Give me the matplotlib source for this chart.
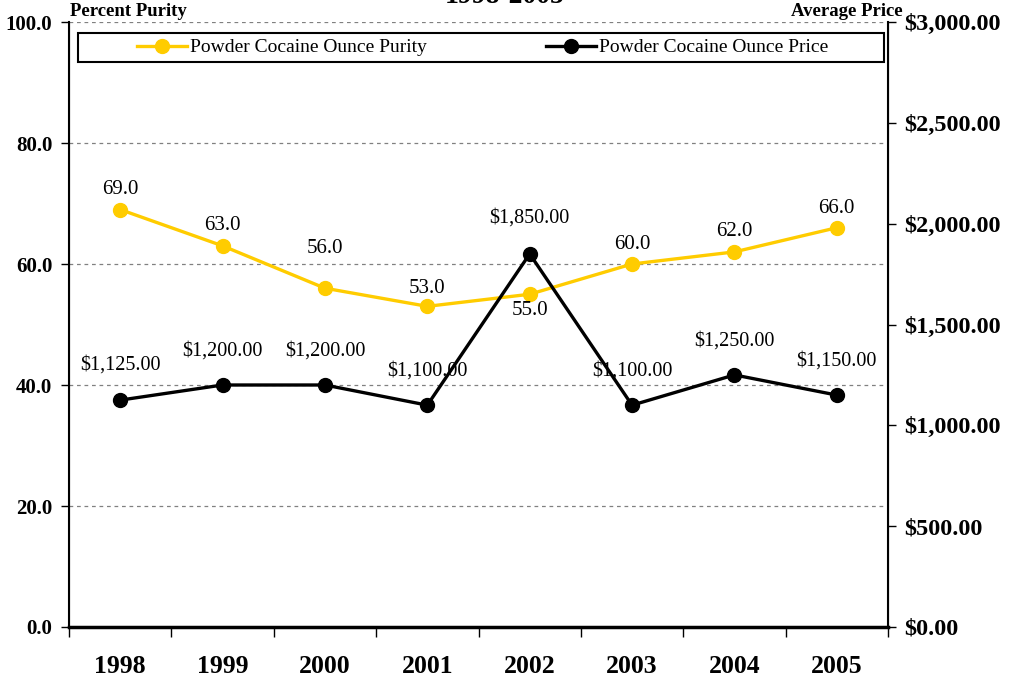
import matplotlib
matplotlib.use("Agg")
import matplotlib.pyplot as plt
from matplotlib.patches import Rectangle

years = ["1998", "1999", "2000", "2001", "2002", "2003", "2004", "2005"]
purity = [69.0, 63.0, 56.0, 53.0, 55.0, 60.0, 62.0, 66.0]
price = [1125, 1200, 1200, 1100, 1850, 1100, 1250, 1150]
purity_label_dy = [20, 20, 40, 18, -16, 20, 20, 19]
price_label_dy = [35, 34, 34, 34, 36, 34, 34, 34]

plt.rcParams['font.family'] = ['Liberation Serif', 'DejaVu Serif']

fig = plt.figure(figsize=(10.09, 6.8), dpi=100)
ax = fig.add_axes([69/1009, 1-627/680, (888-69)/1009, (627-22)/680])
ax2 = ax.twinx()

x = list(range(len(years)))
gold = "#FFCC00"
l1, = ax.plot(x, purity, color=gold, lw=2.4, marker='o', ms=10, label="Powder Cocaine Ounce Purity", zorder=3)
l2, = ax2.plot(x, price, color="black", lw=2.4, marker='o', ms=10, label="Powder Cocaine Ounce Price", zorder=3)

ax.set_xlim(-0.5, len(years)-0.5)
ax.set_ylim(0, 100)
ax2.set_ylim(0, 3000)
lt = [0, 20, 40, 60, 80, 100]
ax.set_yticks(lt)
ax.set_yticklabels([f"{v:.1f}" for v in lt], fontweight='bold', fontsize=15)
rt = [0, 500, 1000, 1500, 2000, 2500, 3000]
ax2.set_yticks(rt)
ax2.set_yticklabels([f"${v:,.2f}" for v in rt], fontweight='bold', fontsize=17.5)
ax.set_xticks([i - 0.5 for i in range(len(years)+1)])
ax.set_xticklabels([])
ax.set_xticks(x, minor=True)
ax.set_xticklabels(years, minor=True, fontweight='bold', fontsize=18.5)
ax.tick_params(axis='x', which='minor', length=0, pad=20)
ax.tick_params(axis='x', which='major', length=7, width=1, direction='out')
ax.tick_params(axis='y', length=6, width=1, direction='out', pad=6)
ax2.tick_params(axis='y', length=6, width=1, direction='out', pad=6)

for v in [20, 40, 60, 80, 100]:
    ax.axhline(v, color='#808080', lw=0.9, ls=(0, (3, 3)), zorder=1)

ax.spines['top'].set_visible(False)
ax2.spines['top'].set_visible(False)
ax.spines['left'].set_linewidth(1.5)
ax.spines['bottom'].set_linewidth(2.5)
ax2.spines['right'].set_linewidth(1.5)

for i, (v, dy) in enumerate(zip(purity, purity_label_dy)):
    ax2.annotate(f"{v:.1f}", (i, v * 30), xytext=(0, dy), textcoords='offset pixels',
                 ha='center', va='center', fontsize=15)
for i, (v, dy) in enumerate(zip(price, price_label_dy)):
    ax2.annotate(f"${v:,.2f}", (i, v), xytext=(0, dy), textcoords='offset pixels',
                 ha='center', va='center', fontsize=14.5)

# legend box
bx0, bx1 = (78-69)/819, (884-69)/819
by0, by1 = (627-62)/605, (627-33)/605
ax2.add_patch(Rectangle((bx0, by0), bx1-bx0, by1-by0, transform=ax2.transAxes,
                        facecolor='white', edgecolor='black', lw=1.5, zorder=5, clip_on=False))
leg = ax2.legend(handles=[l1, l2], ncol=2, loc='center',
                 bbox_to_anchor=((bx0+bx1)/2 + 0.002, (by0+by1)/2),
                 fontsize=14, frameon=False, borderaxespad=0, borderpad=0,
                 handlelength=2.6, handletextpad=0.15, columnspacing=6.1)
leg.set_zorder(6)

fig.text(70/1009, 1-12/680, "Percent Purity", fontweight='bold', fontsize=13.5, ha='left', va='center')
fig.text(903/1009, 1-12/680, "Average Price", fontweight='bold', fontsize=13.5, ha='right', va='center')
fig.text(505/1009, 1-3/680, "1998-2005", fontweight='bold', fontsize=20, ha='center', va='baseline')

fig.savefig("out.png", dpi=100)
